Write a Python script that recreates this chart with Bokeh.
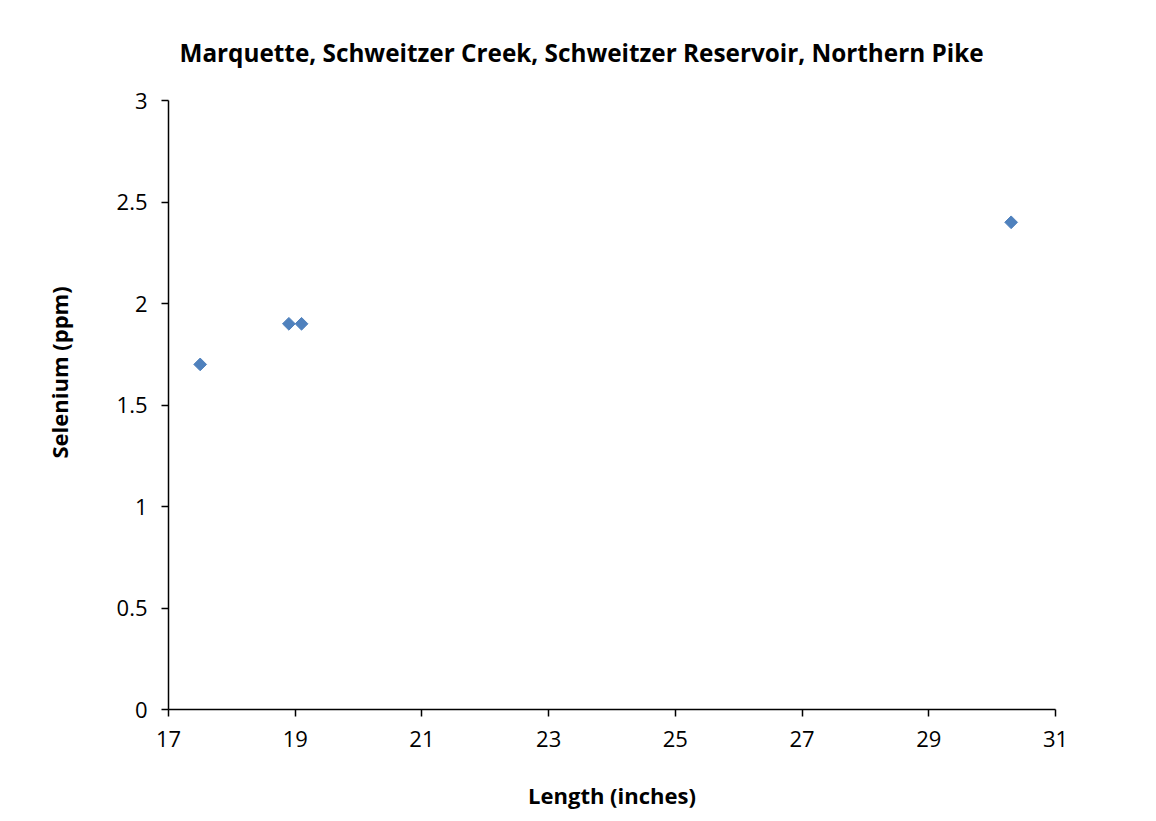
import math
from bokeh.plotting import figure
from bokeh.models import FixedTicker, Range1d, Title
from bokeh.embed import file_html
from bokeh.resources import INLINE

length_in = [17.5, 18.9, 19.1, 30.3]
selenium_ppm = [1.7, 1.9, 1.9, 2.4]
x_ticks = [17, 19, 21, 23, 25, 27, 29, 31]
y_ticks = [0, 0.5, 1, 1.5, 2, 2.5, 3]
y_tick_labels = {0: "0", 0.5: "0.5", 1: "1", 1.5: "1.5", 2: "2", 2.5: "2.5", 3: "3"}
title_text = "Marquette, Schweitzer Creek, Schweitzer Reservoir, Northern Pike"
x_label_text = "Length (inches)"
y_label_text = "Selenium (ppm)"

FONT = "Open Sans"

p = figure(width=1155, height=820, output_backend="svg", toolbar_location=None,
           x_range=Range1d(17, 31), y_range=Range1d(0, 3),
           min_border_left=168, min_border_right=100, min_border_top=100, min_border_bottom=111)
p.title = None
p.add_layout(Title(text=title_text, align="left", offset=11, text_font=FONT,
                   text_font_size="24.3px", text_font_style="bold", text_color="black",
                   standoff=64), "above")
p.add_layout(Title(text=y_label_text, align="left", offset=251, text_font=FONT,
                   text_font_size="22px", text_font_style="bold", text_color="black",
                   standoff=79), "left")

p.outline_line_color = None
p.grid.visible = False
p.background_fill_color = "white"
p.border_fill_color = "white"

p.scatter(length_in, selenium_ppm, marker="square", angle=math.pi / 4, size=9,
          fill_color="#4F81BD", line_color="#4F81BD")

for ax in (p.xaxis[0], p.yaxis[0]):
    ax.axis_line_color = "black"
    ax.axis_line_width = 1.5
    ax.major_tick_line_color = "black"
    ax.major_tick_line_width = 1.5
    ax.major_tick_in = 0
    ax.major_tick_out = 7
    ax.minor_tick_line_color = None
    ax.major_label_text_font = FONT
    ax.major_label_text_font_size = "22px"
    ax.major_label_text_color = "black"

p.xaxis[0].ticker = FixedTicker(ticks=x_ticks)
p.yaxis[0].ticker = FixedTicker(ticks=y_ticks)
p.yaxis[0].major_label_overrides = y_tick_labels
p.xaxis[0].major_label_standoff = 14
p.yaxis[0].major_label_standoff = 14

p.xaxis[0].axis_label = x_label_text
p.xaxis[0].axis_label_text_font = FONT
p.xaxis[0].axis_label_text_font_size = "22px"
p.xaxis[0].axis_label_text_font_style = "bold"
p.xaxis[0].axis_label_text_color = "black"
p.xaxis[0].axis_label_standoff = 30

open("out.html", "w").write(file_html(p, INLINE))
